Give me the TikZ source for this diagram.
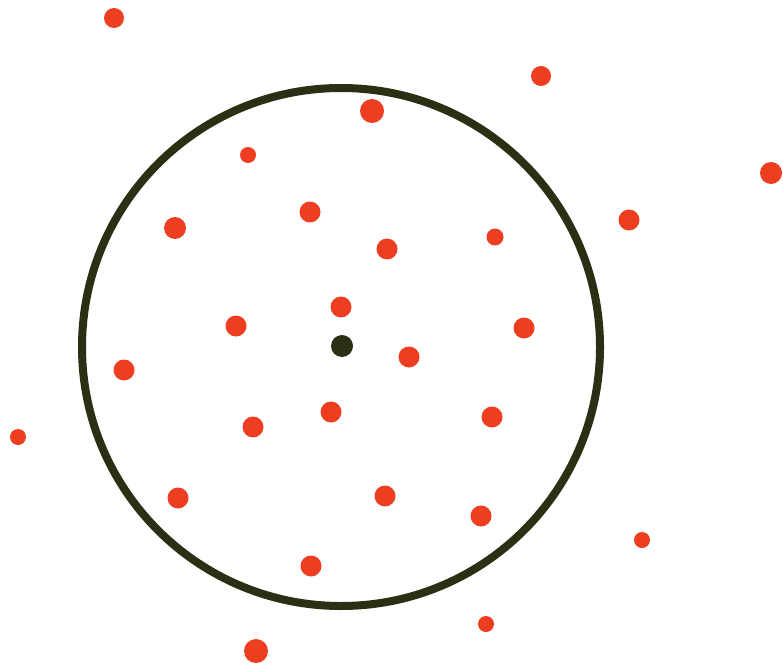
\documentclass[tikz,border=0pt]{standalone}
\definecolor{dotred}{RGB}{238,62,34}
\definecolor{ringdark}{RGB}{42,48,20}
\tikzset{
  pt/.style={circle,fill=dotred,inner sep=0pt,minimum size=#1},
  pt/.default=21pt,
}
\begin{document}
\begin{tikzpicture}[x=1pt,y=-1pt]
\useasboundingbox (0,0) rectangle (783,668);
\fill[white] (0,0) rectangle (783,668);
\draw[ringdark,line width=8pt] (341,347) circle[radius=259];
\foreach \x/\y/\s [count=\i] in {
114/18/20, 541/76/20, 372/111/24, 771/173/22, 248/155/16,
175/228/22, 310/212/21, 387/249/21, 495/237/17, 629/220/21,
341/307/21, 236/326/21, 524/328/21, 409/357/21, 124/370/21,
331/412/21, 253/427/21, 492/417/21, 18/437/16, 178/498/21,
385/496/21, 481/516/21, 642/540/16, 311/566/21, 486/624/16, 256/651/24}
  \node[pt=\s pt] (d\i) at (\x,\y) {};
\node[circle,fill=ringdark,inner sep=0pt,minimum size=22pt] (c) at (342,346) {};
\end{tikzpicture}
\end{document}
